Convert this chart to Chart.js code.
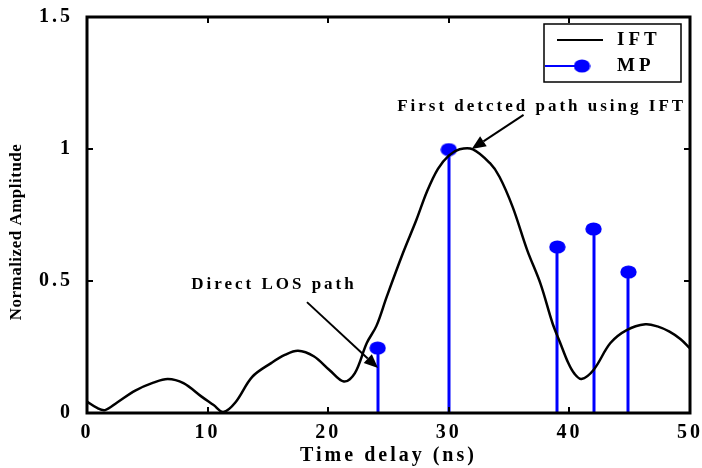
<!DOCTYPE html>
<html>
<head>
<meta charset="utf-8">
<script src="https://cdn.jsdelivr.net/npm/chart.js@4/dist/chart.umd.min.js"></script>
<style>
  html, body { margin: 0; padding: 0; background: #fff; }
  #wrap { width: 702px; height: 468px; }
</style>
</head>
<body>
<div id="wrap"><canvas id="myChart"></canvas></div>
<script>
// IFT curve (time delay in ns, normalized amplitude)
var iftX = [0, 0.8, 1.5, 2.5, 4, 5.5, 6.7, 8, 9.5, 10.5, 11.3, 12.3, 13.7, 15.3, 16.4, 17.5, 18.8, 20.1, 21.3, 22.2, 23.2, 24, 24.85, 26.2, 27.3, 28.2, 29.1, 30, 30.9, 32, 33.4, 34.2, 35.3, 36.5, 37.6, 38.6, 39.2, 39.9, 40.4, 41, 42, 43.4, 44.75, 46.3, 47.3, 48.3, 49.2, 50];
var iftY = [0.043, 0.02, 0.011, 0.04, 0.085, 0.115, 0.129, 0.113, 0.062, 0.03, 0.004, 0.04, 0.137, 0.19, 0.22, 0.236, 0.215, 0.163, 0.119, 0.15, 0.265, 0.33, 0.44, 0.606, 0.73, 0.84, 0.925, 0.975, 0.999, 0.999, 0.947, 0.895, 0.78, 0.617, 0.49, 0.34, 0.27, 0.19, 0.15, 0.129, 0.163, 0.265, 0.314, 0.336, 0.328, 0.308, 0.28, 0.245];

// MP stems
var mpX = [24.1, 30.0, 39.0, 42.0, 44.9];
var mpY = [0.246, 0.998, 0.629, 0.697, 0.534];

var xTicks = [0, 10, 20, 30, 40, 50];
var yTicks = [0, 0.5, 1, 1.5];

var seriesNames = ['IFT', 'MP'];

var FONT = 'Liberation Serif';

var iftData = iftX.map(function (x, i) { return { x: x, y: iftY[i] }; });
var mpData = mpX.map(function (x, i) { return { x: x, y: mpY[i] }; });

// slightly wide marker, like the original
var dot = document.createElement('canvas');
dot.width = 17; dot.height = 14;
(function () {
    var c = dot.getContext('2d');
    c.fillStyle = '#0000ff';
    c.beginPath();
    c.ellipse(8.5, 7, 8.2, 6.6, 0, 0, Math.PI * 2);
    c.fill();
})();

function arrow(ctx, x1, y1, x2, y2) {
    var ang = Math.atan2(y2 - y1, x2 - x1);
    var len = 14, w = 6;
    var bx = x2 - len * Math.cos(ang), by = y2 - len * Math.sin(ang);
    ctx.beginPath();
    ctx.moveTo(x1, y1);
    ctx.lineTo(bx, by);
    ctx.stroke();
    ctx.beginPath();
    ctx.moveTo(x2, y2);
    ctx.lineTo(bx + w * Math.sin(ang), by - w * Math.cos(ang));
    ctx.lineTo(bx - w * Math.sin(ang), by + w * Math.cos(ang));
    ctx.closePath();
    ctx.fill();
}

var spacing = {
    id: 'spacing',
    beforeLayout: function (chart) { chart.ctx.letterSpacing = '3px'; },
    beforeDraw: function (chart) { chart.ctx.letterSpacing = '3px'; }
};

var matlabBox = {
    id: 'matlabBox',
    beforeDatasetsDraw: function (chart) {
        // stems from zero up to each MP point
        var ctx = chart.ctx, xs = chart.scales.x, ys = chart.scales.y;
        ctx.save();
        ctx.strokeStyle = '#0000ff';
        ctx.lineWidth = 3;
        mpData.forEach(function (p) {
            var px = Math.round(xs.getPixelForValue(p.x));
            ctx.beginPath();
            ctx.moveTo(px, ys.getPixelForValue(0));
            ctx.lineTo(px, ys.getPixelForValue(p.y));
            ctx.stroke();
        });
        ctx.restore();
    },
    afterDraw: function (chart) {
        var ctx = chart.ctx, a = chart.chartArea;
        var xs = chart.scales.x, ys = chart.scales.y;
        ctx.save();
        ctx.letterSpacing = '0px';
        ctx.strokeStyle = '#000';
        ctx.fillStyle = '#000';

        // inward ticks on all four sides
        ctx.lineWidth = 2;
        xTicks.forEach(function (v) {
            var px = Math.round(xs.getPixelForValue(v));
            ctx.beginPath();
            ctx.moveTo(px, a.bottom); ctx.lineTo(px, a.bottom - 6);
            ctx.moveTo(px, a.top); ctx.lineTo(px, a.top + 6);
            ctx.stroke();
        });
        yTicks.forEach(function (v) {
            var py = Math.round(ys.getPixelForValue(v));
            ctx.beginPath();
            ctx.moveTo(a.left, py); ctx.lineTo(a.left + 6, py);
            ctx.moveTo(a.right, py); ctx.lineTo(a.right - 6, py);
            ctx.stroke();
        });

        // axes box
        ctx.lineWidth = 3;
        ctx.strokeRect(a.left, a.top, a.right - a.left, a.bottom - a.top);

        // y axis title
        ctx.save();
        ctx.letterSpacing = '0.5px';
        ctx.font = 'bold 17px ' + FONT;
        ctx.textAlign = 'center';
        ctx.textBaseline = 'middle';
        ctx.translate(17, 232);
        ctx.rotate(-Math.PI / 2);
        ctx.fillText('Normalized Amplitude', 0, 0);
        ctx.restore();

        // annotations
        ctx.letterSpacing = '3px';
        ctx.font = 'bold 17px ' + FONT;
        ctx.textAlign = 'center';
        ctx.textBaseline = 'middle';
        ctx.fillText('Direct LOS path', xs.getPixelForValue(15.5), ys.getPixelForValue(0.485));
        ctx.fillText('First detcted path using IFT', xs.getPixelForValue(37.7), ys.getPixelForValue(1.159));
        ctx.lineWidth = 2;
        arrow(ctx, xs.getPixelForValue(18.24), ys.getPixelForValue(0.42), xs.getPixelForValue(24.13), ys.getPixelForValue(0.17));
        arrow(ctx, xs.getPixelForValue(36.2), ys.getPixelForValue(1.129), xs.getPixelForValue(31.9), ys.getPixelForValue(1.0));

        // legend box
        var lx = a.right - 146, ly = a.top + 7, lw = 137, lh = 58;
        ctx.fillStyle = '#fff';
        ctx.fillRect(lx, ly, lw, lh);
        ctx.lineWidth = 1.5;
        ctx.strokeStyle = '#000';
        ctx.strokeRect(lx, ly, lw, lh);
        ctx.lineWidth = 2;
        ctx.beginPath();
        ctx.moveTo(lx + 13, ly + 16); ctx.lineTo(lx + 59, ly + 16);
        ctx.stroke();
        ctx.strokeStyle = '#0000ff';
        ctx.lineWidth = 2;
        ctx.beginPath();
        ctx.moveTo(lx + 1, ly + 42); ctx.lineTo(lx + 38, ly + 42);
        ctx.stroke();
        ctx.drawImage(dot, lx + 38 - 8.5, ly + 42 - 7);
        ctx.fillStyle = '#000';
        ctx.textAlign = 'left';
        ctx.letterSpacing = '4px';
        ctx.font = 'bold 19px ' + FONT;
        ctx.fillText(seriesNames[0], lx + 73, ly + 16);
        ctx.fillText(seriesNames[1], lx + 73, ly + 42);
        ctx.restore();
    }
};

var ctx = document.getElementById('myChart').getContext('2d');
var myChart = new Chart(ctx, {
    type: 'scatter',
    data: {
        datasets: [{
            label: seriesNames[0],
            data: iftData,
            showLine: true,
            borderColor: '#000',
            borderWidth: 2.5,
            pointRadius: 0,
            tension: 0.35
        }, {
            label: seriesNames[1],
            data: mpData,
            showLine: false,
            pointStyle: dot,
            backgroundColor: '#0000ff',
            borderColor: '#0000ff',
            pointRadius: 8,
            borderWidth: 0
        }]
    },
    options: {
        responsive: true,
        maintainAspectRatio: false,
        animation: false,
        layout: { padding: { top: 17, right: 12, left: 0, bottom: 0 } },
        plugins: {
            legend: { display: false },
            tooltip: { enabled: false }
        },
        scales: {
            x: {
                type: 'linear',
                min: 0, max: 50,
                afterBuildTicks: function (s) { s.ticks = xTicks.map(function (v) { return { value: v }; }); },
                afterFit: function (s) { s.height = 55; s.paddingRight = 0; s.paddingLeft = 0; },
                grid: { display: false },
                border: { display: false },
                ticks: {
                    color: '#000', padding: 0,
                    callback: function (v) { return String(v); },
                    font: { family: FONT, size: 20, weight: 'bold' }
                },
                title: {
                    display: true, text: 'Time delay (ns)', color: '#000', padding: { top: 0, bottom: 0 },
                    font: { family: FONT, size: 20, weight: 'bold' }
                }
            },
            y: {
                min: 0, max: 1.5,
                afterBuildTicks: function (s) { s.ticks = yTicks.map(function (v) { return { value: v }; }); },
                afterFit: function (s) { s.width = 87; s.paddingTop = 0; s.paddingBottom = 0; },
                grid: { display: false },
                border: { display: false },
                ticks: {
                    color: '#000', padding: 6,
                    callback: function (v) { return String(v); },
                    font: { family: FONT, size: 20, weight: 'bold' }
                }
            }
        }
    },
    plugins: [spacing, matlabBox]
});
</script>
</body>
</html>
